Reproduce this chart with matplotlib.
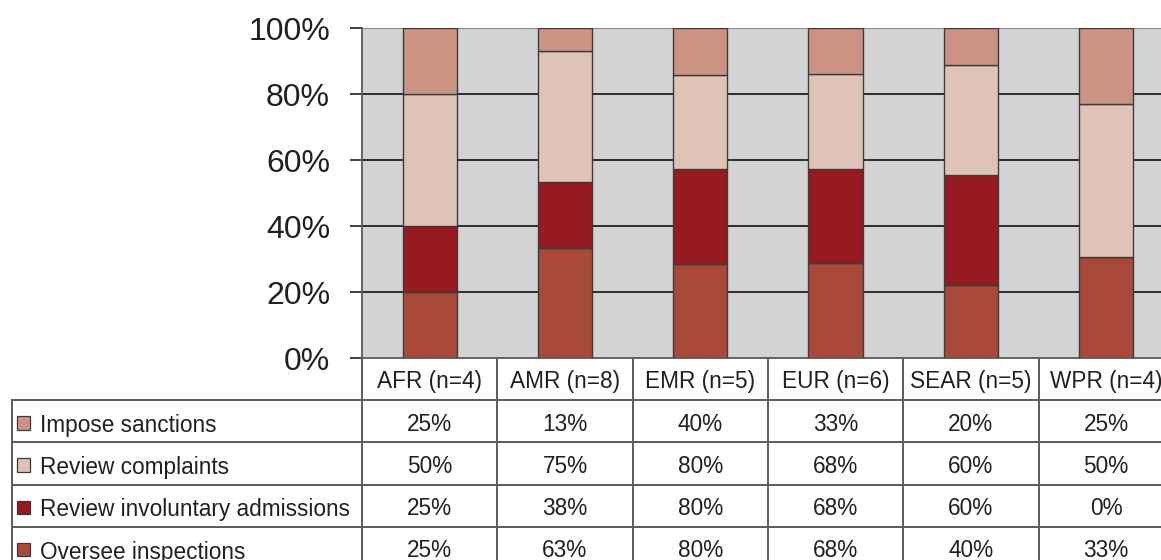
import numpy as np
import matplotlib
matplotlib.use("Agg")
import matplotlib.pyplot as plt

plt.rcParams["font.family"] = ["Liberation Sans", "DejaVu Sans"]

# donnees
regions = ["AFR (n=4)", "AMR (n=8)", "EMR (n=5)", "EUR (n=6)", "SEAR (n=5)", "WPR (n=4)"]
series_names = ["Impose sanctions", "Review complaints",
                "Review involuntary admissions", "Oversee inspections"]
sanctions = [25, 13, 40, 33, 20, 25]
complaints = [50, 75, 80, 68, 60, 50]
involuntary = [25, 38, 80, 68, 60, 0]
inspections = [25, 63, 80, 68, 40, 33]

couleurs = {
    "Impose sanctions": "#cc9382",
    "Review complaints": "#e0c3b7",
    "Review involuntary admissions": "#961a20",
    "Oversee inspections": "#a9493a",
}
texte_col = "#231f20"
ligne_col = "#5a5a5a"

valeurs = {
    "Impose sanctions": sanctions,
    "Review complaints": complaints,
    "Review involuntary admissions": involuntary,
    "Oversee inspections": inspections,
}

W, H = 1161, 560
fig = plt.figure(figsize=(W / 100, H / 100), dpi=100)

col_w = 135.3
x0_plot = 362
y_top, y_zero = 28, 358
fs_tab = 16.3

ax = fig.add_axes([x0_plot / W, (H - y_zero) / H, 6 * col_w / W, (y_zero - y_top) / H])
ax.set_facecolor("#d2d3d5")

x = np.arange(len(regions))
total = np.sum([np.array(valeurs[s], dtype=float) for s in series_names], axis=0)
bas = np.zeros(len(regions))
# empilement du bas vers le haut
for s in series_names[::-1]:
    part = np.array(valeurs[s], dtype=float) / total * 100
    ax.bar(x, part, bottom=bas, width=0.4, color=couleurs[s],
           edgecolor="#3c3c3c", linewidth=1.0, zorder=3)
    bas += part

ax.set_xlim(-0.5, 5.5)
ax.set_ylim(0, 100)
ax.set_yticks([0, 20, 40, 60, 80, 100])
ax.set_yticklabels([f"{v}%" for v in [0, 20, 40, 60, 80, 100]],
                   fontsize=23, color=texte_col)
ax.tick_params(axis="y", length=9, width=1.2, color=texte_col, pad=14)
ax.set_xticks([])
for v in [20, 40, 60, 80]:
    ax.axhline(v, color="#231f20", linewidth=1.3, zorder=1)
ax.axhline(100, color="#8a8a8a", linewidth=1.5, zorder=1)
for cote in ["right", "top"]:
    ax.spines[cote].set_visible(False)
ax.spines["left"].set_color(ligne_col)
ax.spines["left"].set_linewidth(1.3)
ax.spines["bottom"].set_color(ligne_col)
ax.spines["bottom"].set_linewidth(1.3)

# tableau sous le graphique
x_gauche = 12
y_bas = 569
tab = fig.add_axes([x_gauche / W, (H - y_bas) / H, (x0_plot + 6 * col_w - x_gauche) / W,
                    (y_bas - y_zero) / H])
tab.set_xlim(-0.5 - (x0_plot - x_gauche) / col_w, 5.5)
tab.set_ylim(5, 0)
tab.axis("off")
x_min = -0.5 - (x0_plot - x_gauche) / col_w

for i, r in enumerate(regions):
    tab.text(i, 0.55, r, ha="center", va="center", fontsize=fs_tab, color=texte_col)

for j, s in enumerate(series_names):
    y = j + 1.5
    tab.add_patch(plt.Rectangle((x_min + 0.04, y - 0.12), 0.095, 0.32,
                                facecolor=couleurs[s], edgecolor="#3c3c3c",
                                linewidth=0.9, clip_on=False))
    tab.text(x_min + 0.205, y + 0.1, s, ha="left", va="center",
             fontsize=fs_tab, color=texte_col)
    for i, v in enumerate(valeurs[s]):
        tab.text(i, y + 0.07, f"{v}%", ha="center", va="center", fontsize=fs_tab,
                 color=texte_col)

for k in range(1, 5):
    tab.plot([x_min, 5.5], [k, k], color=ligne_col, linewidth=1.4, clip_on=False)
tab.plot([x_min, x_min], [1, 5], color=ligne_col, linewidth=1.4, clip_on=False)
for k in range(7):
    tab.plot([k - 0.5, k - 0.5], [0, 5], color=ligne_col, linewidth=1.4, clip_on=False)

fig.savefig("out.png", dpi=100)
plt.close(fig)
